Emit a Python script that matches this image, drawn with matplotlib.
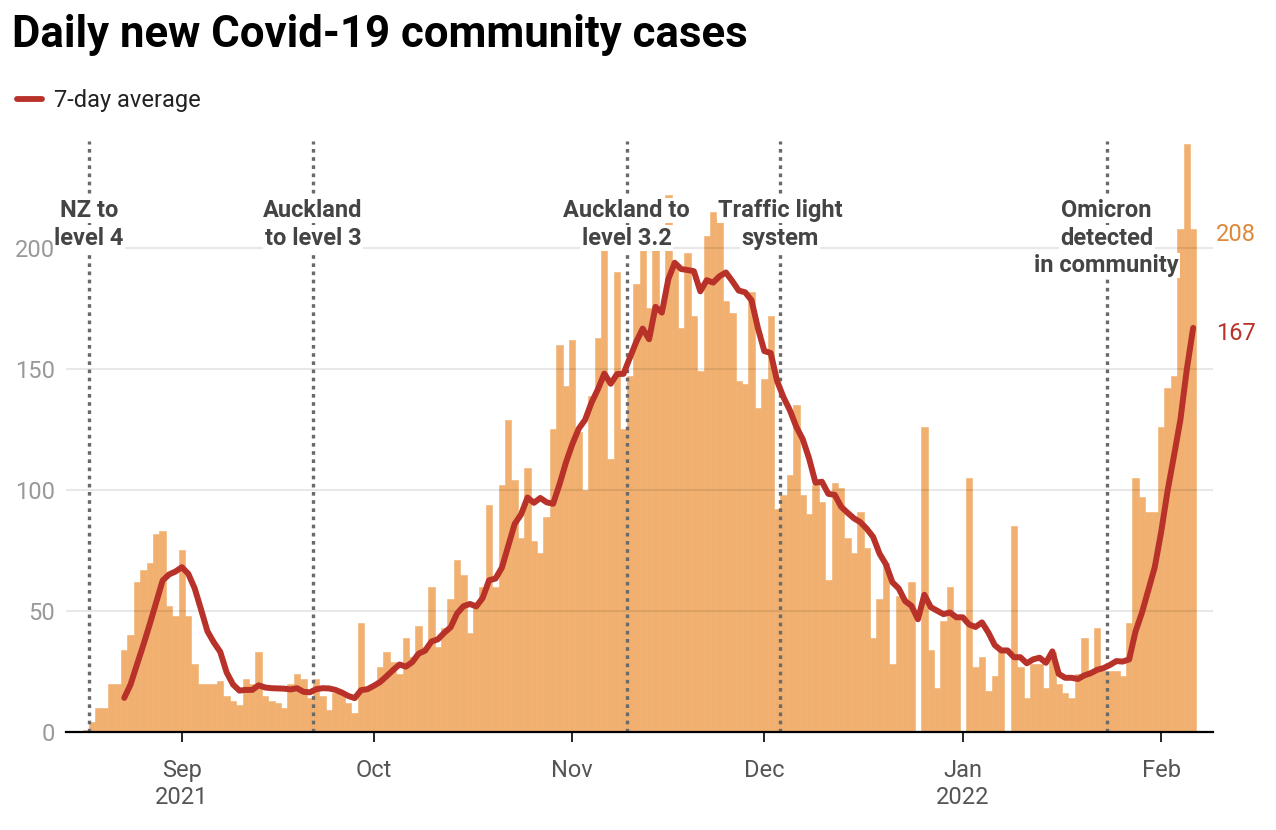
import pandas as pd
import matplotlib
matplotlib.use('Agg')
import matplotlib.pyplot as plt
import matplotlib.dates as mdates
from matplotlib import transforms
from matplotlib.lines import Line2D
from matplotlib.ticker import FuncFormatter

plt.rcParams['font.family'] = ['Roboto', 'DejaVu Sans']

# daily new community cases, one value per day from 17 Aug 2021
first_day = '2021-08-17'
cases_aug = [1, 4, 10, 10, 20, 20, 34, 40, 62, 67, 70, 82, 83, 52, 48]
cases_sep = [75, 48, 28, 20, 20, 20, 21, 15, 13, 11, 22, 20, 33, 15, 13,
             12, 10, 20, 24, 22, 14, 22, 15, 9, 16, 16, 12, 8, 45, 18]
cases_oct = [19, 27, 33, 29, 24, 39, 31, 44, 35, 60, 35, 43, 55, 71, 65, 41,
             53, 60, 94, 60, 102, 129, 104, 80, 109, 79, 74, 89, 125, 160, 143]
cases_nov = [162, 124, 100, 139, 163, 206, 113, 190, 125, 147, 185, 201, 175, 207, 173,
             222, 194, 167, 198, 172, 149, 205, 215, 212, 178, 173, 145, 144, 182, 134]
cases_dec = [146, 172, 92, 98, 106, 135, 98, 90, 102, 95, 63, 103, 101, 80, 74, 91,
             76, 39, 55, 70, 28, 56, 55, 62, 0, 126, 34, 18, 46, 60, 48]
cases_jan = [0, 105, 27, 31, 17, 23, 33, 0, 85, 27, 14, 28, 28, 18, 33, 20,
             16, 14, 24, 39, 24, 43, 25, 25, 25, 23, 45, 105, 97, 91, 91]
cases_feb = [126, 142, 147, 208, 243, 208]

# 7-day average, one value per day from 23 Aug 2021
avg_first_day = '2021-08-23'
avg_aug = [14.1, 19.7, 28.0, 36.1, 44.7, 53.6, 62.6, 65.1, 66.3]
avg_sep = [68.1, 65.4, 59.4, 50.6, 41.6, 37.0, 33.1, 24.6, 19.6, 17.1, 17.4, 17.4, 19.3, 18.4, 18.1,
           18.0, 17.9, 17.6, 18.1, 16.6, 16.4, 17.7, 18.1, 18.0, 17.4, 16.3, 14.9, 14.0, 17.3, 17.7]
avg_oct = [19.1, 20.7, 23.1, 25.6, 27.9, 27.0, 28.9, 32.4, 33.6, 37.4, 38.3, 41.0, 43.3, 49.0, 52.0, 52.9,
           51.9, 55.4, 62.7, 63.4, 67.9, 77.0, 86.0, 89.9, 96.9, 94.7, 96.7, 94.9, 94.3, 102.3, 111.3]
avg_nov = [118.9, 125.3, 129.0, 136.1, 141.6, 148.1, 143.9, 147.9, 148.0, 154.7, 161.3, 166.7, 162.3, 175.7, 173.3,
           187.1, 193.9, 191.3, 190.9, 190.4, 182.1, 186.7, 185.7, 188.3, 189.9, 186.3, 182.4, 181.7, 178.4, 166.9]
avg_dec = [157.4, 156.6, 145.0, 138.3, 132.9, 126.1, 121.0, 113.0, 103.0, 103.4, 98.4, 98.0, 93.1, 90.6, 88.3, 86.7,
           84.0, 80.6, 73.7, 69.3, 61.9, 59.3, 54.1, 52.1, 46.6, 56.7, 51.6, 50.1, 48.7, 49.4, 47.4]
avg_jan = [47.4, 44.4, 43.4, 45.3, 41.1, 35.9, 33.7, 33.7, 30.9, 30.9, 28.4, 30.0, 30.7, 28.6, 33.3, 24.0,
           22.4, 22.4, 21.9, 23.4, 24.3, 25.7, 26.4, 27.7, 29.3, 29.1, 30.0, 41.6, 49.3, 58.7, 68.1]
avg_feb = [82.6, 99.6, 114.1, 128.9, 149.7, 167.0]

# events marked with dotted lines
event_dates = ['2021-08-17', '2021-09-21', '2021-11-09', '2021-12-03', '2022-01-23']
event_labels = [['NZ to', 'level 4'],
                ['Auckland', 'to level 3'],
                ['Auckland to', 'level 3.2'],
                ['Traffic light', 'system'],
                ['Omicron', 'detected', 'in community']]

cases = cases_aug + cases_sep + cases_oct + cases_nov + cases_dec + cases_jan + cases_feb
avg = avg_aug + avg_sep + avg_oct + avg_nov + avg_dec + avg_jan + avg_feb
days = pd.date_range(first_day, periods=len(cases))
avg_days = pd.date_range(avg_first_day, periods=len(avg))

bar_color = '#F1B06F'
line_color = '#B8322A'
label_color = '#444444'

W, H = 1276, 830
fig = plt.figure(figsize=(W / 100, H / 100), dpi=100)
ax = fig.add_axes([66 / W, 1 - 732 / H, (1213 - 66) / W, (732 - 141.5) / H])

ax.bar(days, cases, width=1.0, color=bar_color, edgecolor=bar_color, linewidth=0.4, zorder=1)
ax.plot(avg_days, avg, color=line_color, lw=4.3, solid_capstyle='round',
        solid_joinstyle='round', zorder=4)

# event lines + labels
half_day = pd.Timedelta(hours=12)
row_y = [212.8, 201.4, 190.1]
for d, rows in zip(event_dates, event_labels):
    x = pd.Timestamp(d) + half_day
    ax.axvline(x, color='#6a6a6a', lw=2.4, linestyle=(0, (1.1, 1.35)), zorder=3)
    for r, txt in enumerate(rows):
        ax.text(x, row_y[r], txt, ha='center', va='baseline', fontsize=17,
                fontweight='bold', color=label_color, zorder=5,
                bbox=dict(facecolor='white', edgecolor='none', pad=1.0))

# axes styling
sep1 = pd.Timestamp('2021-09-01')
ax.set_xlim(sep1 - pd.Timedelta(days=18.1), sep1 + pd.Timedelta(days=161.1))
ax.set_ylim(0, 244)
ax.set_yticks([0, 50, 100, 150, 200])
ax.set_axisbelow(False)
ax.grid(axis='y', color='black', alpha=0.09, lw=1.5)
ax.grid(axis='x', visible=False)

for s in ['top', 'right', 'left']:
    ax.spines[s].set_visible(False)
ax.spines['bottom'].set_color('black')
ax.spines['bottom'].set_linewidth(1.6)
ax.spines['bottom'].set_zorder(4.5)


def month_label(x, pos):
    d = mdates.num2date(x)
    if d.month in (9, 1):
        return d.strftime('%b\n%Y')
    return d.strftime('%b')


ax.xaxis.set_major_locator(mdates.MonthLocator())
ax.xaxis.set_major_formatter(FuncFormatter(month_label))
ax.tick_params(axis='x', length=7.5, width=1.2, color='black', labelsize=17,
               labelcolor='#555555', pad=12)
ax.tick_params(axis='y', length=0, pad=8, labelsize=17, labelcolor='#999999')

# end labels
trans = transforms.blended_transform_factory(ax.transAxes, ax.transData)
ax.annotate(f'{cases[-1]}', xy=(1.0, cases[-1]), xycoords=trans, xytext=(2, -4),
            textcoords='offset points', ha='left', va='center', fontsize=17, color='#E0883A')
ax.annotate(f'{avg[-1]:.0f}', xy=(1.0, avg[-1]), xycoords=trans, xytext=(2, -4),
            textcoords='offset points', ha='left', va='center', fontsize=17, color=line_color)

# title and legend
fig.text(12 / W, 1 - 47.3 / H, 'Daily new Covid-19 community cases', fontsize=31.5,
         fontweight='bold', color='black', va='baseline')
fig.add_artist(Line2D([17 / W, 42 / W], [1 - 99 / H, 1 - 99 / H], transform=fig.transFigure,
                      color=line_color, lw=4.2, solid_capstyle='round'))
fig.text(54 / W, 1 - 106.7 / H, '7-day average', fontsize=17, color='#222222', va='baseline')

fig.savefig('out.png', dpi=100, facecolor='white')
